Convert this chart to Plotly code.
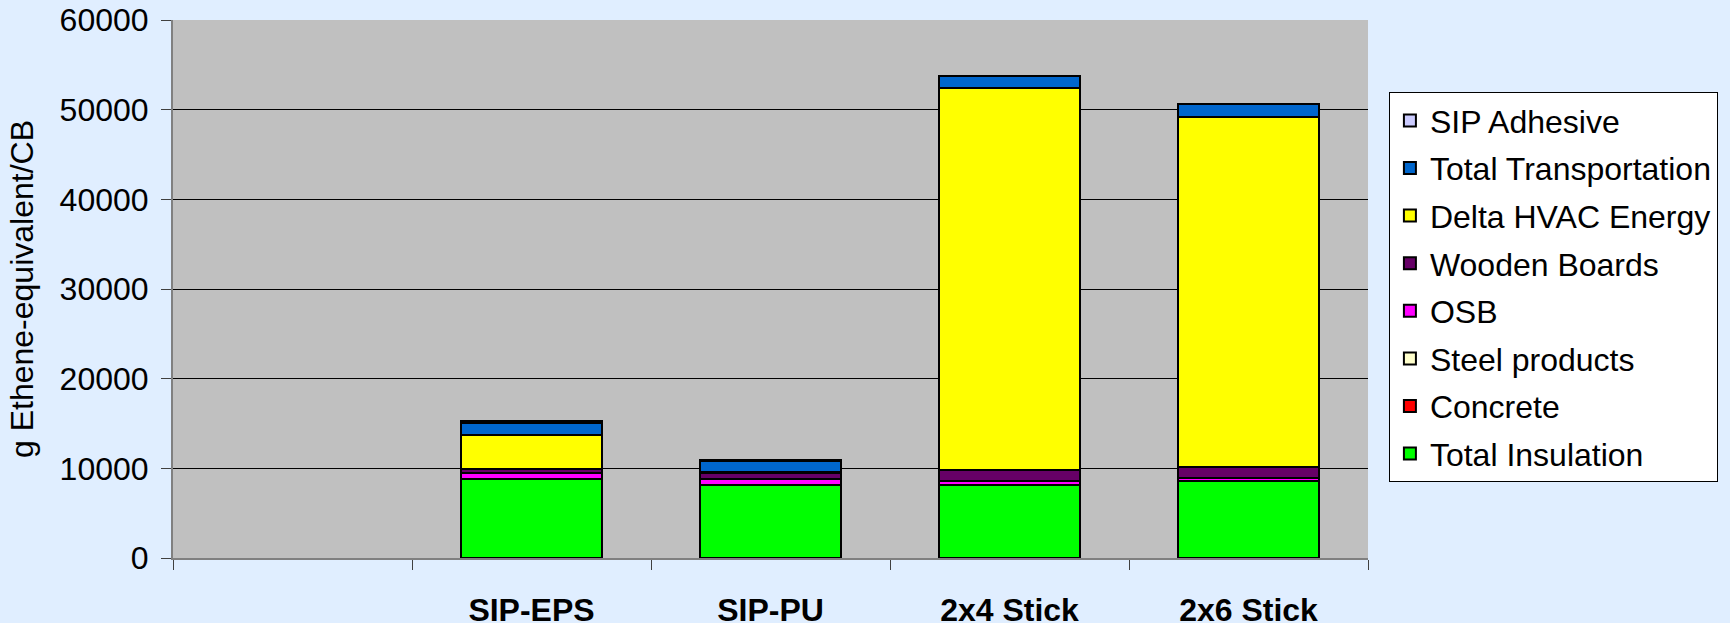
import plotly.graph_objects as go

# Categories (first slot is left empty in the original chart)
categories = ["", "SIP-EPS", "SIP-PU", "2x4 Stick", "2x6 Stick"]

# Stack components, bottom to top (g Ethene-equivalent/CB); None = no bar
total_insulation = [None, 8800, 8130, 8120, 8580]
concrete = [None, 20, 20, 20, 20]
steel_products = [None, 40, 40, 40, 40]
osb = [None, 600, 600, 420, 310]
wooden_boards = [None, 440, 670, 1230, 1150]
delta_hvac = [None, 3870, 110, 42560, 39080]
total_transport = [None, 1340, 1300, 1420, 1490]
sip_adhesive = [None, 200, 90, 0, 0]

series = [
    ("Total Insulation", total_insulation, "#00FF00"),
    ("Concrete", concrete, "#FF0000"),
    ("Steel products", steel_products, "#FFFFCC"),
    ("OSB", osb, "#FF00FF"),
    ("Wooden Boards", wooden_boards, "#660066"),
    ("Delta HVAC Energy", delta_hvac, "#FFFF00"),
    ("Total Transportation", total_transport, "#0066CC"),
    ("SIP Adhesive", sip_adhesive, "#CCCCFF"),
]

x_pos = list(range(len(categories)))

fig = go.Figure()
for i, (name, vals, color) in enumerate(series):
    fig.add_trace(go.Bar(
        x=x_pos, y=vals, name=name, legendgroup=name,
        legendrank=100 - i,  # top of the stack listed first
        marker=dict(color=color, line=dict(color="black", width=2)),
    ))

fig.update_layout(
    barmode="stack",
    bargap=0.41,
    width=1730, height=623,
    margin=dict(l=173, r=359, t=20, b=65),
    paper_bgcolor="#E0EEFF",
    plot_bgcolor="#C0C0C0",
    font=dict(family="Liberation Sans, Arial, sans-serif", size=30, color="black"),
    showlegend=True,
    legend=dict(
        x=1.0175, y=0.866, xanchor="left", yanchor="top",
        bgcolor="white", bordercolor="black", borderwidth=1,
        traceorder="grouped",
        font=dict(size=32),
        tracegroupgap=3,
    ),
)

fig.update_xaxes(
    range=[-0.5, 4.5], automargin=False,
    tickmode="array", tickvals=x_pos, ticktext=categories,
    ticks="", ticklabelstandoff=23,
    tickfont=dict(family="Liberation Sans, Arial", size=32, weight="bold"),
    showline=True, linecolor="#808080", linewidth=2,
    showgrid=False, zeroline=False,
    minor=dict(tickmode="array", tickvals=[-0.5, 0.5, 1.5, 2.5, 3.5, 4.5],
               ticks="outside", ticklen=10, tickcolor="#404040", tickwidth=1, showgrid=False),
)

fig.update_yaxes(
    range=[0, 60000], dtick=10000, automargin=False,
    tickformat="d",
    ticks="outside", ticklen=10, tickcolor="#404040",
    ticklabelstandoff=6,
    showline=True, linecolor="#808080", linewidth=2,
    showgrid=True, gridcolor="black", gridwidth=1,
    zeroline=False,
    title=dict(text="g Ethene-equivalent/CB", font=dict(size=32), standoff=16),
    tickfont=dict(size=32),
)

# drop the default 8px page margin so the figure fills the window
fig.write_html(
    "out.html",
    config={"displayModeBar": False},
    post_script="document.body.style.margin='0';document.body.style.background='#E0EEFF';",
)
